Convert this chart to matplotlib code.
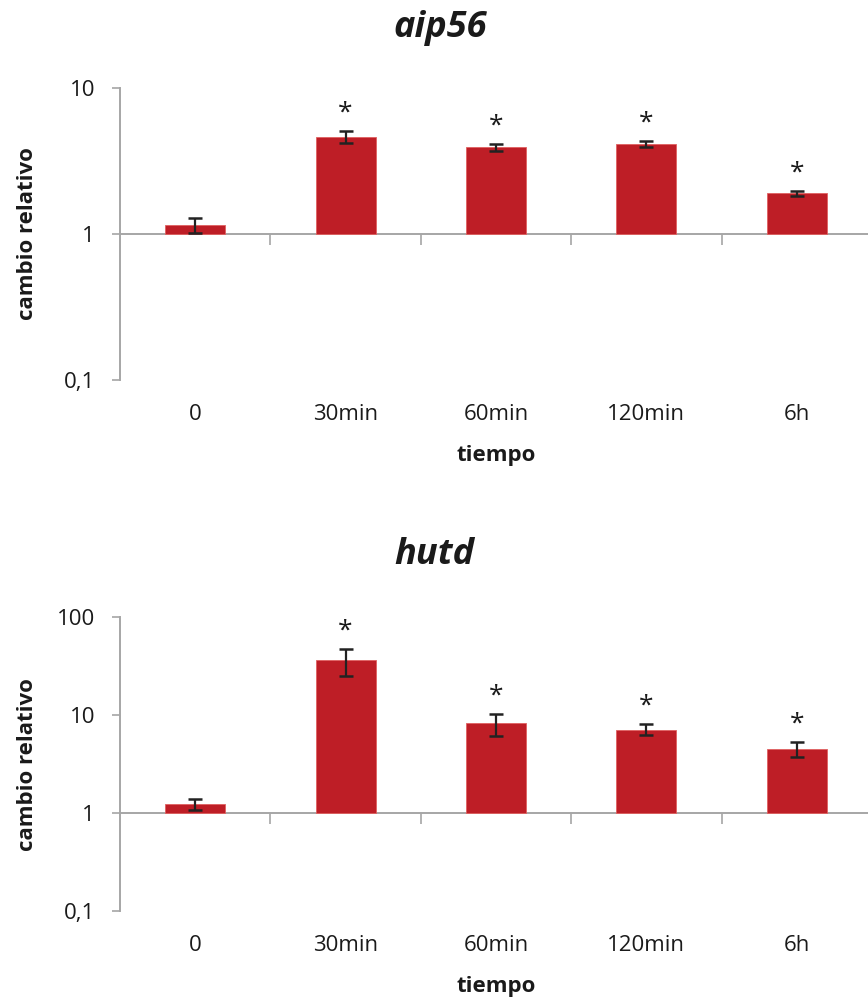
import matplotlib
matplotlib.use("Agg")
import matplotlib.pyplot as plt
from matplotlib.ticker import FixedLocator, NullLocator, FixedFormatter

plt.rcParams['font.family'] = ['Open Sans', 'DejaVu Sans']

categories = ["0", "30min", "60min", "120min", "6h"]

aip56_values = [1.15, 4.64, 3.93, 4.15, 1.90]
aip56_errors = [0.14, 0.43, 0.21, 0.20, 0.07]
aip56_signif = [False, True, True, True, True]

hutd_values = [1.23, 36.2, 8.2, 7.1, 4.5]
hutd_errors = [0.16, 11.0, 2.1, 0.9, 0.8]
hutd_signif = [False, True, True, True, True]

BAR_RED = "#BE1E26"
AXIS_GRAY = "#A6A6A6"
TEXT = "#1A1A1A"
FS = 16


def draw_panel(ax, values, errors, signif, ymax, yticks, yticklabels):
    x = list(range(len(categories)))
    heights = [v - 1 for v in values]
    ax.bar(x, heights, bottom=1, width=0.4, color=BAR_RED,
           edgecolor="#E06060", linewidth=0.6, zorder=2)
    ax.errorbar(x, values, yerr=errors, fmt="none", ecolor="#222222",
                elinewidth=1.6, capsize=5, capthick=1.8, zorder=3)
    for xi, v, e, s in zip(x, values, errors, signif):
        if s:
            ax.annotate("*", (xi, v + e), xytext=(0, 13), textcoords="offset points",
                        ha="center", va="center", fontsize=19, color=TEXT)

    ax.set_yscale("log")
    ax.set_ylim(0.1, ymax)
    ax.set_xlim(-0.5, len(categories) - 0.5)
    ax.yaxis.set_major_locator(FixedLocator(yticks))
    ax.yaxis.set_major_formatter(FixedFormatter(yticklabels))
    ax.yaxis.set_minor_locator(NullLocator())
    ax.tick_params(axis="y", direction="out", length=6, width=1.2,
                   color=AXIS_GRAY, pad=12, labelsize=FS, labelcolor=TEXT)

    for side in ["top", "right"]:
        ax.spines[side].set_visible(False)
    ax.spines["left"].set_color(AXIS_GRAY)
    ax.spines["left"].set_linewidth(1.4)
    ax.spines["bottom"].set_position(("data", 1))
    ax.spines["bottom"].set_color(AXIS_GRAY)
    ax.spines["bottom"].set_linewidth(1.4)
    ax.spines["bottom"].set_zorder(1)

    # boundary ticks between categories, hanging from the line at 1
    ax.xaxis.set_major_locator(FixedLocator([i + 0.5 for i in x[:-1]]))
    ax.xaxis.set_minor_locator(NullLocator())
    ax.tick_params(axis="x", direction="out", length=8, width=1.2,
                   color=AXIS_GRAY, labelbottom=False)

    # category labels along the bottom of the plot area
    sec = ax.secondary_xaxis(0)
    sec.set_xticks(x)
    sec.set_xticklabels(categories)
    sec.tick_params(length=0, pad=17, labelsize=FS, labelcolor=TEXT)
    sec.spines["bottom"].set_visible(False)
    sec.set_xlabel("tiempo", fontsize=FS, fontweight="bold", color=TEXT, labelpad=15)


fig = plt.figure(figsize=(8.68, 10), dpi=100)

ax1 = fig.add_axes([120 / 868, 0.620, 752 / 868, 0.292])
draw_panel(ax1, aip56_values, aip56_errors, aip56_signif, 10,
           [0.1, 1, 10], ["0,1", "1", "10"])

ax2 = fig.add_axes([120 / 868, 0.089, 752 / 868, 0.294])
draw_panel(ax2, hutd_values, hutd_errors, hutd_signif, 100,
           [0.1, 1, 10, 100], ["0,1", "1", "10", "100"])

fig.text(0.507, 1 - 28 / 1000, "aip56", ha="center", va="center",
         fontsize=26, fontweight="bold", fontstyle="italic", color=TEXT)
fig.text(0.501, 1 - 555 / 1000, "hutd", ha="center", va="center",
         fontsize=26, fontweight="bold", fontstyle="italic", color=TEXT)

fig.text(28 / 868, 1 - 234 / 1000, "cambio relativo", rotation=90,
         ha="center", va="center", fontsize=FS, fontweight="bold", color=TEXT)
fig.text(28 / 868, 1 - 765 / 1000, "cambio relativo", rotation=90,
         ha="center", va="center", fontsize=FS, fontweight="bold", color=TEXT)

fig.savefig("out.png", dpi=100)
